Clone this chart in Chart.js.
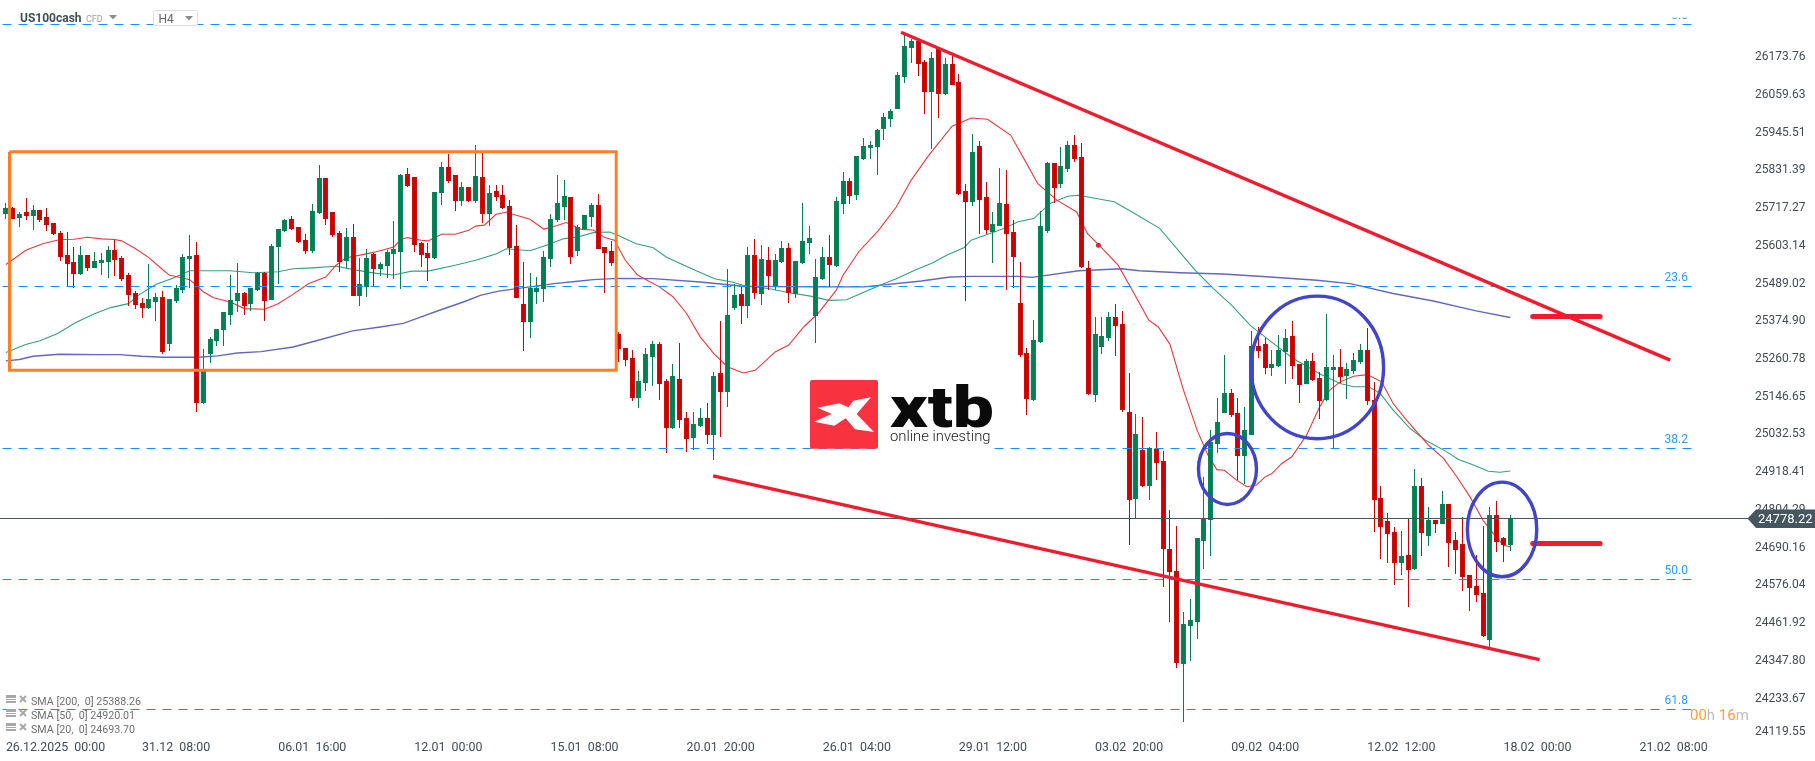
<!DOCTYPE html>
<html><head><meta charset="utf-8"><style>html,body{margin:0;padding:0;background:#fff;overflow:hidden}canvas{display:block}</style>
<script src="https://cdn.jsdelivr.net/npm/chart.js@4"></script></head><body><canvas id="c" width="1815" height="761"></canvas>
<script>
const opens=[25704,25722,25693,25710,25698,25716,25695,25677,25646,25579,25558,25522,25579,25540,25555,25558,25595,25570,25519,25464,25433,25418,25436,25452,25309,25440,25473,25567,25579,25129,25278,25318,25351,25397,25440,25464,25430,25473,25525,25443,25604,25652,25689,25665,25625,25592,25707,25814,25710,25646,25561,25634,25455,25482,25583,25537,25546,25583,25589,25826,25817,25616,25586,25570,25768,25847,25823,25744,25786,25744,25817,25704,25774,25762,25729,25607,25430,25376,25467,25476,25567,25686,25726,25756,25592,25659,25695,25732,25604,25592,25339,25296,25266,25144,25190,25269,25309,25196,25053,25202,25083,25022,25059,25083,25032,25220,25162,25418,25461,25424,25579,25461,25564,25485,25558,25601,25461,25555,25616,25394,25506,25573,25546,25735,25805,25762,25871,25905,25908,25963,25993,26024,26121,26209,26231,26167,26075,26206,26069,26161,26106,25774,25741,25911,25756,25649,25668,25735,25649,25433,25281,25138,25315,25652,25859,25795,25841,25914,25878,25540,25153,25299,25327,25391,25369,25102,24837,24986,24877,24989,24953,24685,24618,24335,24450,24463,24709,24773,25004,25099,25160,25099,24968,25032,25303,25309,25236,25242,25284,25333,25248,25187,25257,25205,25138,25230,25239,25211,25227,25254,25290,25138,24840,24770,24737,24642,24667,24624,24876,24724,24773,24761,24822,24712,24700,24606,24572,24551,24408,24788,24718,24697];
const highs=[25737,25725,25712,25755,25732,25718,25722,25678,25652,25649,25604,25607,25580,25590,25587,25607,25627,25576,25525,25470,25448,25552,25463,25470,25447,25488,25583,25640,25619,25293,25331,25355,25407,25519,25555,25467,25480,25528,25528,25613,25660,25689,25698,25666,25643,25735,25853,25815,25711,25652,25662,25674,25570,25598,25586,25558,25595,25683,25826,25844,25818,25619,25616,25772,25862,25887,25824,25802,25787,25914,25890,25793,25793,25793,25747,25671,25558,25525,25513,25592,25704,25823,25808,25757,25671,25702,25738,25765,25605,25622,25346,25297,25290,25226,25296,25318,25315,25202,25248,25312,25102,25102,25114,25129,25223,25379,25537,25491,25483,25604,25628,25610,25604,25582,25622,25616,25562,25738,25668,25567,25604,25640,25756,25832,25814,25882,25935,25926,25963,26011,26024,26136,26252,26237,26237,26173,26197,26209,26179,26188,26130,25795,25948,25926,25801,25710,25844,25838,25686,25558,25296,25382,25713,25862,25860,25908,25926,25945,25920,25561,25391,25391,25406,25430,25409,25220,25096,25086,24995,25041,24983,24803,24755,24493,24533,24719,24904,25047,25144,25275,25172,25144,25117,25348,25360,25327,25290,25336,25354,25379,25249,25263,25281,25223,25400,25275,25293,25251,25281,25309,25357,25193,24876,24794,24752,24740,24776,24928,24901,24813,24774,24861,24823,24737,24782,24607,24667,24755,24813,24831,24721,24788];
const lows=[25689,25689,25666,25686,25655,25681,25654,25640,25562,25487,25480,25518,25532,25539,25519,25510,25516,25500,25424,25416,25388,25417,25379,25278,25287,25433,25463,25479,25102,25126,25251,25303,25303,25367,25406,25397,25409,25470,25379,25442,25491,25651,25655,25618,25583,25586,25706,25671,25634,25528,25540,25454,25424,25452,25485,25516,25510,25506,25476,25788,25589,25543,25500,25569,25732,25798,25713,25729,25741,25738,25677,25668,25744,25719,25579,25448,25287,25327,25430,25436,25543,25680,25686,25552,25576,25655,25665,25597,25464,25546,25255,25243,25135,25114,25167,25181,25138,24977,25052,25053,24980,24986,25058,25004,24956,25026,25117,25412,25369,25388,25445,25427,25473,25473,25557,25433,25449,25554,25582,25312,25505,25482,25543,25704,25735,25747,25868,25871,25823,25929,25969,26023,26103,26164,26124,26008,25902,25996,26068,26096,25764,25439,25728,25643,25643,25555,25667,25473,25479,25269,25092,25137,25312,25646,25738,25783,25832,25862,25540,25155,25132,25278,25318,25272,25102,24697,24778,24875,24834,24895,24569,24463,24323,24158,24344,24411,24624,24663,24977,25098,25086,24895,24883,25031,25266,25217,25211,25239,25187,25202,25129,25186,25198,25080,25137,24992,25190,25141,25217,25248,25123,24737,24654,24642,24575,24606,24508,24623,24663,24694,24733,24760,24630,24609,24557,24496,24524,24417,24384,24676,24645,24679];
const closes=[25722,25690,25706,25698,25716,25686,25671,25643,25574,25552,25522,25579,25540,25561,25564,25595,25564,25506,25458,25427,25418,25446,25452,25284,25446,25479,25573,25576,25129,25226,25324,25354,25406,25443,25464,25424,25479,25525,25440,25607,25659,25686,25659,25619,25592,25713,25814,25689,25640,25558,25634,25455,25491,25570,25537,25552,25589,25598,25823,25789,25610,25579,25570,25771,25847,25805,25744,25786,25744,25820,25704,25768,25756,25722,25601,25449,25376,25479,25479,25573,25689,25738,25759,25573,25665,25701,25732,25598,25586,25555,25295,25260,25144,25196,25278,25309,25187,25053,25211,25077,25019,25065,25083,25032,25211,25162,25397,25458,25424,25579,25464,25567,25515,25564,25601,25464,25561,25622,25631,25512,25573,25549,25744,25805,25759,25881,25911,25914,25960,25999,26018,26127,26215,26231,26161,26075,26179,26069,26161,26097,25765,25741,25893,25747,25655,25674,25738,25643,25573,25275,25141,25321,25668,25859,25783,25850,25914,25871,25543,25156,25339,25333,25391,25363,25108,24834,25035,24876,24992,24946,24685,24615,24338,24457,24469,24718,24778,25010,25071,25160,25093,24968,25047,25303,25287,25236,25248,25290,25327,25242,25184,25257,25199,25135,25239,25239,25208,25233,25260,25290,25135,24834,24752,24731,24642,24664,24621,24876,24734,24773,24761,24822,24703,24682,24600,24566,24545,24420,24788,24706,24697,24778];

const sma20Bars=[0,3,5.5,8,10,12,14,16,17,19,21,23,24,26,27,28,29,30.5,33,35,38,40,42,44.5,47,48.5,50,52.6,54.4,57,58,59,61,62,64,66,68,69,70.3,72,73.5,77,79,81,82.3,84.6,86.3,88,89.4,91,92.8,96,98,100,102,104,106,108.3,110.1,113,115,117.2,119.3,122,123,125.3,128.2,130.8,133,135.6,139,141.8,144.2,147.6,149.7,151.6,154.4,157.3,158.9,160.6,163.4,165.6,167.9,169.3,171,173,175,176.6,177.9,179,180.8,182.3,183.7,185,186,187.4,188.9,191.1,193,194.5,196,198,200,202.1,203.8,205.8,209,211.2,213,215.1,217,218.5,220,221];
const sma20Vals=[25551,25595,25615,25627,25628,25634,25629,25627,25623,25600,25572,25536,25519,25510,25505,25488,25468,25450,25437,25417,25415,25432,25458,25493,25513,25549,25572,25582,25590,25604,25627,25633,25625,25623,25643,25643,25655,25668,25671,25704,25710,25689,25659,25670,25679,25658,25656,25633,25625,25564,25519,25483,25453,25402,25331,25280,25240,25221,25229,25285,25306,25361,25402,25473,25519,25590,25655,25726,25808,25884,25972,25997,25993,25945,25868,25797,25747,25711,25645,25610,25549,25468,25382,25361,25309,25169,25047,24971,24927,24925,24895,24875,24880,24905,24915,24945,24966,25032,25118,25169,25194,25211,25216,25194,25128,25077,25001,24961,24910,24844,24773,24733,24697,24692];
const sma50Bars=[0,2.9,5,7.6,10.2,13.1,15.4,18,19.5,22,24.7,27,32.9,36.3,40,42.2,45,48.5,51.5,54.4,57,59.6,62,66,69,72.1,73.5,77,79.4,82,84,86.3,88.7,89.9,92.5,95.1,97,100.1,104.1,106.7,108.8,112,115.1,118.2,120.9,123.5,125.6,128.7,130.8,133.5,136.1,138.2,140.8,141.8,146.6,148.7,151,153.4,156,157.6,162.8,165,169.5,174.7,177.4,180.1,182.8,186.2,189.1,193,196,198,200.2,201.9,203.8,206.3,208.5,211.7,213.4,215.3,217.8,219.5,221];
const sma50Vals=[25283,25308,25319,25341,25374,25402,25420,25432,25458,25490,25511,25532,25532,25526,25529,25538,25541,25546,25534,25524,25519,25531,25531,25549,25564,25584,25599,25593,25610,25630,25635,25648,25650,25640,25615,25602,25574,25544,25508,25498,25485,25478,25465,25455,25442,25444,25463,25490,25508,25534,25556,25579,25603,25625,25661,25681,25691,25737,25759,25762,25742,25716,25661,25534,25478,25427,25366,25311,25265,25219,25189,25179,25179,25159,25108,25052,25017,24981,24958,24943,24922,24919,24923];
const sma200Bars=[0,2,4,7.8,13.7,16.6,20,23,28.2,31.1,34,37.5,42.2,45.6,50.9,55,58.4,60.8,63.7,67.2,69.8,72.4,77,80.5,84,86.3,89.9,95.1,102,108.3,118.8,126.1,134.5,138.7,141.8,148.7,150.8,157.6,163.9,166.5,172.5,178.8,185.2,192.6,197.5,203.8,209.7,216,221];
const sma200Vals=[25258,25262,25272,25278,25277,25277,25272,25269,25269,25273,25282,25286,25300,25319,25349,25361,25372,25390,25412,25437,25458,25470,25483,25493,25500,25505,25509,25508,25498,25485,25483,25483,25501,25513,25515,25515,25512,25532,25538,25532,25526,25522,25514,25503,25493,25463,25440,25410,25390];

const priceLabels=[24119.55,24233.67,24347.80,24461.92,24576.04,24690.16,24804.29,24918.41,25032.53,25146.65,25260.78,25374.90,25489.02,25603.14,25717.27,25831.39,25945.51,26059.63,26173.76];
const tickSlots=[24129,24230,24345,24460,24575,24689,24804,24919,25034,25149,25263,25378,25493,25608,25723,25838,25952,26067,26182];
const timeBars=[0,20,40,60,80,100,120,140,160,180,200,220,240];
const timeLabels=['26.12.2025  00:00','31.12  08:00','06.01  16:00','12.01  00:00','15.01  08:00','20.01  20:00','26.01  04:00','29.01  12:00','03.02  20:00','09.02  04:00','12.02  12:00','18.02  00:00','21.02  08:00'];
const fibLevels=[26281.4,25484.2,24991.2,24592.6,24197];
const fibNames=['0.0','23.6','38.2','50.0','61.8'];
const lastPrice=24778.22;
const upperTrendBars=[131.5,244.5], upperTrendVals=[26258,25260];
const lowerTrendBars=[103.9,225.3], lowerTrendVals=[24908,24349];
const shortBars=[224.3,234.2], shortUpper=25393, shortLower=24702;
const boxBars=[0.53,89.66,89.66,0.53,0.53], boxVals=[25894,25894,25229,25229,25894];
const ellipses=[[179.46,24929,4.26,108],[192.65,25238,9.74,217],[219.8,24745,5.1,144]];
const legendRows=['SMA [200,  0] 25388.26','SMA [50,  0] 24920.01','SMA [20,  0] 24693.70'];

const GREEN='#007f52',RED='#cc0000',BLUE='#1890ff',TXT='#414d55';
const FONT='Roboto, sans-serif';
const candleColors=closes.map((c,i)=>c>=opens[i]?GREEN:RED);
const pts=(xs,ys)=>xs.map((x,i)=>({x,y:ys[i]}));
const line=(data,color,width,order,extra)=>Object.assign({type:'line',data,borderColor:color,borderWidth:width,pointRadius:0,tension:0,fill:false,order},extra||{});
const XMIN=-0.867,XMAX=255.93,YMIN=24104.2,YMAX=26356;
const noPad=(s)=>{s.paddingLeft=0;s.paddingRight=0;s.paddingTop=0;s.paddingBottom=0;};

const overlay={id:'overlay',
 afterDatasetsUpdate(chart){
  chart.getSortedVisibleDatasetMetas().forEach(m=>{ if(m.type!=='bar')return;
   m.data.forEach(el=>{el.x=Math.floor(el.x)+0.5;el.y=Math.round(el.y);el.base=Math.round(el.base);});});
 },
 afterDraw(chart){
  const c=chart.ctx,xs=chart.scales.x,ys=chart.scales.y;
  const X=v=>xs.getPixelForValue(v),Y=v=>ys.getPixelForValue(v);
  c.save();
  // ellipses
  c.strokeStyle='#4146c9';c.lineWidth=3.4;
  ellipses.forEach(e=>{c.beginPath();c.ellipse(X(e[0]),Y(e[1]),X(e[0]+e[2])-X(e[0]),Y(e[1]-e[3])-Y(e[1]),0,0,Math.PI*2);c.stroke();});
  // fib captions
  c.textAlign='right';c.textBaseline='middle';c.font='12px '+FONT;c.fillStyle='#2f9bff';
  fibLevels.forEach((l,i)=>{const y=Y(l)-8.5;
    if(i===0){c.save();c.beginPath();c.rect(1660,17.5,40,6);c.clip();c.fillText(fibNames[i],1688,y);c.restore();}
    else c.fillText(fibNames[i],1688,y);});
  // logo
  c.fillStyle='#fff';c.fillRect(878,441,116,9);
  c.fillStyle='#f93240';c.beginPath();c.roundRect(810,380,68,68.7,2);c.fill();
  c.fillStyle='#fff';c.beginPath();
  [[82,113],[148,100],[175,112],[190,92],[243,82],[200,132],[252,186],[195,178],[167,145],[133,167],[72,155],[125,132]].forEach((p,i)=>{const x=790+p[0]/3,y=370+p[1]/3;i?c.lineTo(x,y):c.moveTo(x,y);});
  c.closePath();c.fill();
  c.textAlign='left';c.textBaseline='alphabetic';c.fillStyle='#0a0a0a';
  c.save();c.translate(890,427);c.scale(1.26,1);c.font='900 58px '+FONT;c.fillText('xtb',0,0);c.restore();
  c.fillStyle='#222';c.font='300 14.8px '+FONT;c.fillText('online investing',890,441);
  // price tag
  const ty=Y(lastPrice);
  c.fillStyle='#455660';c.beginPath();c.moveTo(1747.5,ty);c.lineTo(1756,ty-9);c.lineTo(1815,ty-9);c.lineTo(1815,ty+9.5);c.lineTo(1756,ty+9.5);c.closePath();c.fill();
  c.fillStyle='#fff';c.font='13px '+FONT;c.textBaseline='middle';c.fillText(lastPrice.toFixed(2),1758,ty+1);
  // countdown
  c.font='15px '+FONT;let cx=1690;
  [['00','#ffa033'],['h','#bdbdbd'],[' ','#bdbdbd'],['16','#ffa033'],['m','#bdbdbd']].forEach(p=>{c.fillStyle=p[1];c.fillText(p[0],cx,716);cx+=c.measureText(p[0]).width;});
  // header
  c.fillStyle='#3e4e57';c.font='bold 12px '+FONT;c.fillText('US100cash',20,18.5);
  c.fillStyle='#a0a0a0';c.font='9px '+FONT;c.fillText('CFD',86,19.5);
  c.fillStyle='#8c8c8c';c.beginPath();c.moveTo(109,15);c.lineTo(117,15);c.lineTo(113,19.5);c.closePath();c.fill();
  c.fillStyle='#fff';c.strokeStyle='#dfdfdf';c.lineWidth=1;c.beginPath();c.roundRect(153.5,10.5,44,15,2);c.fill();c.stroke();
  c.fillStyle='#666';c.font='12px '+FONT;c.fillText('H4',158.5,20);
  c.fillStyle='#8c8c8c';c.beginPath();c.moveTo(185,16);c.lineTo(193,16);c.lineTo(189,20.5);c.closePath();c.fill();
  // legend of indicators
  legendRows.forEach((t,i)=>{const y=701+i*14;
    c.fillStyle='#a8a8a8';c.fillRect(6,y-6,10,3);c.fillRect(6,y-2,10,1);c.fillRect(6,y,10,2);
    c.strokeStyle='#a8a8a8';c.lineWidth=2;c.beginPath();c.moveTo(20,y-5);c.lineTo(26,y+1);c.moveTo(26,y-5);c.lineTo(20,y+1);c.stroke();
    c.fillStyle='#6f6f6f';c.font='10.7px '+FONT;c.fillText(t,31,y+1);});
  c.restore();
 }};

new Chart(document.getElementById('c'),{
 data:{datasets:[
  line(pts(sma200Bars,sma200Vals),'#6468bd',1.4,9),
  line(pts(sma50Bars,sma50Vals),'#35a07a',1.1,8),
  line(pts(sma20Bars,sma20Vals),'#e23a40',1.1,7),
  {type:'bar',data:lows.map((l,i)=>({x:i,y:[l,highs[i]]})),backgroundColor:candleColors,grouped:false,maxBarThickness:1,borderWidth:0,order:6},
  {type:'bar',data:opens.map((o,i)=>({x:i,y:[o,closes[i]]})),backgroundColor:candleColors,grouped:false,maxBarThickness:5,borderWidth:0,order:5},
  ...fibLevels.map(l=>line(pts([-0.5,248],[l,l]),BLUE,1,4,{borderDash:[9,7]})),
  line(pts([XMIN,XMAX],[lastPrice,lastPrice]),'#43525b',1,4),
  line(pts(boxBars,boxVals),'#ff7f27',3,3,{borderJoinStyle:'miter'}),
  line(pts(upperTrendBars,upperTrendVals),'#ee1c2e',3.4,2),
  line(pts(lowerTrendBars,lowerTrendVals),'#ee1c2e',3.4,2),
  line(pts(shortBars,[shortUpper,shortUpper]),'#ee1c2e',5,1,{borderCapStyle:'round'}),
  line(pts(shortBars,[shortLower,shortLower]),'#ee1c2e',5,1,{borderCapStyle:'round'}),
  line([{x:160.5,y:25610}],'#e2222e',0,1,{pointRadius:2.5,pointBackgroundColor:'#e2222e',showLine:false})
 ]},
 options:{responsive:false,animation:false,
  layout:{padding:0,autoPadding:false},
  plugins:{legend:{display:false},tooltip:{enabled:false}},
  scales:{
   x:{type:'linear',offset:false,min:XMIN,max:XMAX,grid:{display:false,drawTicks:false,offset:false},border:{display:false},
      afterFit(s){s.height=21;noPad(s);},
      afterBuildTicks(s){s.ticks=timeBars.map(v=>({value:v}));},
      ticks:{autoSkip:false,maxRotation:0,minRotation:0,align:'start',padding:0,color:TXT,font:{family:'Roboto',size:12.4},callback:(v,i)=>timeLabels[i]}},
   y:{type:'linear',position:'right',min:YMIN,max:YMAX,grid:{display:false,drawTicks:false},border:{display:false},
      afterFit(s){s.width=67;noPad(s);},
      afterBuildTicks(s){s.ticks=tickSlots.map(v=>({value:v}));},
      ticks:{autoSkip:false,padding:7,color:TXT,font:{family:'Roboto',size:12},callback:(v,i)=>priceLabels[i].toFixed(2)}}
  }},
 plugins:[overlay]
});
</script></body></html>
